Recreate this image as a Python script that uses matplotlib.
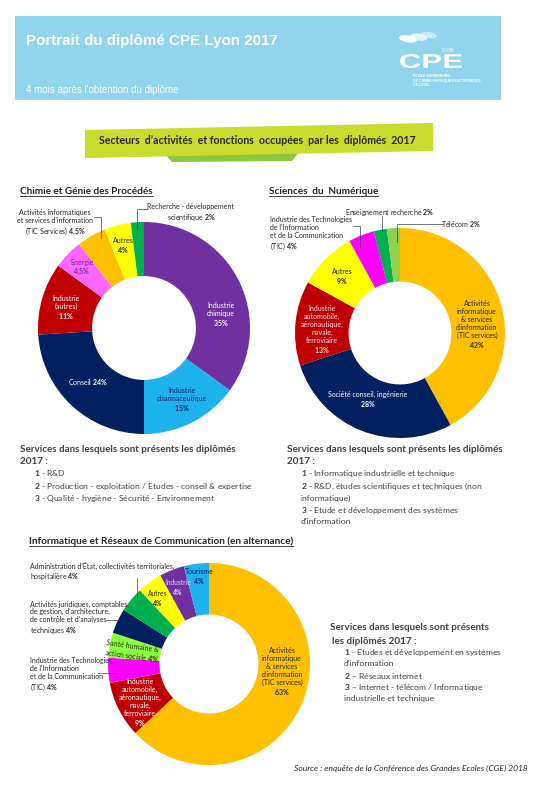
import numpy as np
import matplotlib
matplotlib.use('Agg')
from matplotlib import pyplot as plt
from matplotlib.patches import Rectangle, Polygon, Ellipse, PathPatch
from matplotlib.textpath import TextPath
from matplotlib.font_manager import FontProperties
import matplotlib.transforms as mtransforms

plt.rcParams['font.family'] = ['Lato', 'DejaVu Sans']
plt.rcParams['mathtext.fontset'] = 'custom'
plt.rcParams['mathtext.rm'] = 'Lato'
plt.rcParams['mathtext.bf'] = 'Lato:bold'
plt.rcParams['mathtext.it'] = 'Lato:italic'

W, H = 538, 785
DARK = '#262626'
GREY = '#404040'
NAVY = '#002060'

# --- donut data ---
chimie_lab = ['Industrie chimique', 'Industrie pharmaceutique', 'Conseil', 'Industrie (autres)',
              'Energie', 'Activités informatiques (TIC Services)', 'Autres', 'Recherche - développement scientifique']
chimie_val = [35, 15, 24, 11, 4.5, 4.5, 4, 2]
chimie_col = ['#7030A0', '#1DB2EE', '#002060', '#C00000', '#FF66FF', '#FFC000', '#FFFF00', '#00B050']

num_lab = ['Activités informatique & services (TIC)', 'Société conseil, ingénierie', 'Industrie automobile...',
           'Autres', 'Industrie TIC', 'Enseignement recherche', 'Télécom']
num_val = [42, 28, 13, 9, 4, 2, 2]
num_col = ['#FFC000', '#002060', '#C00000', '#FFFF00', '#FF00FF', '#00B050', '#92D050']

irc_lab = ['Activités informatique & services (TIC)', 'Industrie automobile...', 'Industrie TIC',
           'Santé humaine & action sociale', 'Activités juridiques...', 'Administration',
           'Autres', 'Industrie', 'Tourisme']
irc_val = [63, 9, 4, 4, 4, 4, 4, 4, 4]
irc_col = ['#FFC000', '#C00000', '#FF00FF', '#8CFF3C', '#002060', '#00B050', '#FFFF00', '#7030A0', '#1DB2EE']

fig = plt.figure(figsize=(W / 100, H / 100), dpi=100)


def donut(cx, cy, r, vals, cols):
    ax = fig.add_axes([(cx - r) / W, 1 - (cy + r) / H, 2 * r / W, 2 * r / H])
    ax.pie(vals, colors=cols, startangle=90, counterclock=False,
           wedgeprops=dict(width=0.51, linewidth=0))
    ax.set_xlim(-1, 1)
    ax.set_ylim(-1, 1)
    ax.axis('off')
    return ax


donut(144, 328, 106, chimie_val, chimie_col)
donut(400, 333, 105, num_val, num_col)
donut(209, 664, 101, irc_val, irc_col)

# overlay in pixel coords for texts and decorations
ov = fig.add_axes([0, 0, 1, 1])
ov.set_xlim(0, W)
ov.set_ylim(H, 0)
ov.axis('off')

# header band
ov.add_patch(Rectangle((15, 16), 486, 84, color='#91D4EC', lw=0))
ov.text(26, 41, 'Portrait du diplômé CPE Lyon 2017', family='Liberation Sans', fontweight='bold',
        fontsize=10.9, color='white', va='center')
ov.text(26, 90, "4 mois après l'obtention du diplôme", family='Liberation Sans', fontsize=7,
        color='white', va='center')
# logo
for ex, ey, ew, eh, a in [(408, 39, 18, 7, 1.0), (419, 37, 17, 7, 0.75), (429, 35, 16, 6, 0.5)]:
    ov.add_patch(Ellipse((ex, ey), ew, eh, angle=10, color='white', alpha=a, lw=0))
ov.text(448, 50, 'LYON', family='Liberation Sans', fontsize=3.3, color='white', va='center', ha='center')
tp = TextPath((0, 0), 'CPE', size=1, prop=FontProperties(family='Liberation Sans', weight='bold'))
ext = tp.get_extents()
tr = mtransforms.Affine2D().translate(-ext.x0, -ext.y0).scale(62 / ext.width, -14 / ext.height) \
    .translate(400, 68) + ov.transData
ov.add_patch(PathPatch(tp, transform=tr, color='white', lw=0))
for i, s in enumerate(['ÉCOLE SUPÉRIEURE', 'DE CHIMIE PHYSIQUE ÉLECTRONIQUE', 'DE LYON']):
    ov.text(413, 76 + i * 4.3, s, family='Liberation Sans', fontsize=2.6, color='white', va='center',
            fontweight='bold')

# banner
ov.add_patch(Polygon([(165, 154), (300, 151), (292, 161), (172, 162)], color='#8CC63E', lw=0))
ov.add_patch(Polygon([(85, 130), (433, 123), (433, 151), (85, 158)], color='#C9DB2C', lw=0))
ov.text(257, 141, 'Secteurs  d\u2019activités  et fonctions  occupées  par les  diplômés  2017',
        fontweight='bold', fontsize=7.6, color=DARK, ha='center', va='center')

renderer = fig.canvas.get_renderer()


def title(x, y, s, size=7.2):
    t = ov.text(x, y, s, fontweight='bold', fontsize=size, color=DARK, va='center')
    bb = t.get_window_extent(renderer)
    ov.plot([x, x + bb.width], [y + 5, y + 5], color=DARK, lw=0.6)


title(20, 191, 'Chimie et Génie des Procédés')
title(269, 191, 'Sciences  du  Numérique')
title(29, 541, 'Informatique et Réseaux de Communication (en alternance)')


def lab(s, x, y, c=DARK, ha='center', rot=0):
    ov.text(x, y, s, fontsize=5, color=c, ha=ha, va='center', multialignment=ha,
            linespacing=1.15, rotation=rot)


def leader(pts):
    pts = np.array(pts)
    ov.plot(pts[:, 0], pts[:, 1], color='#404040', lw=0.5)


# Chimie labels
lab('Industrie\nchimique\n$\\mathbf{35\\%}$', 221, 315, 'white')
lab('Industrie\npharmaceutique\n$\\mathbf{15\\%}$', 182, 400, NAVY)
lab('Conseil $\\mathbf{24\\%}$', 88, 382, 'white')
lab('Industrie\n(autres)\n$\\mathbf{11\\%}$', 66, 308, 'white')
lab('Energie\n$\\mathbf{4{,}5\\%}$', 82, 268, '#7030A0')
lab('Autres\n$\\mathbf{4\\%}$', 123, 246, DARK)
lab("Activités informatiques\net services d\u2019information\n(TIC Services) $\\mathbf{4{,}5\\%}$", 55, 223)
leader([(94, 217), (101, 217), (101, 238)])
lab('Recherche - développement\nscientifique $\\mathbf{2\\%}$', 191, 213)
leader([(148, 209), (137, 209), (137, 229)])

# Numerique labels
lab("Activités\ninformatique\n& services\nd\u2019information\n(TIC services)\n$\\mathbf{42\\%}$", 477, 325)
lab('Société conseil, ingénierie\n$\\mathbf{28\\%}$', 368, 400, 'white')
lab('Industrie\nautomobile,\naéronautique,\nnavale,\nferroviaire\n$\\mathbf{13\\%}$', 322, 330, '#FFE4E4')
lab('Autres\n$\\mathbf{9\\%}$', 342, 277)
lab("Industrie des Technologies\nde l\u2019Information\net de la Communication\n(TIC) $\\mathbf{4\\%}$",
    270, 234, ha='left')
leader([(353, 226), (360, 226), (360, 247)])
lab('Enseignement recherche $\\mathbf{2\\%}$', 390, 212)
leader([(382, 216), (382, 231)])
lab('Télécom $\\mathbf{2\\%}$', 461, 224)
leader([(443, 224), (397, 224), (397, 242)])

# IRC labels
lab("Activités\ninformatique\n& services\nd\u2019information\n(TIC services)\n$\\mathbf{63\\%}$", 282, 672)
lab('Industrie\nautomobile,\naéronautique,\nnavale,\nferroviaire\n$\\mathbf{9\\%}$', 140, 703, 'white')
lab('Santé humaine &\naction sociale $\\mathbf{4\\%}$', 132, 652, rot=-8)
ov.text(158, 599, 'Autres\n$\\mathbf{4\\%}$', fontsize=4.8, color=DARK, ha='center', va='center',
        linespacing=1.15)
ov.text(178, 588, 'Industrie\n$\\mathbf{4\\%}$', fontsize=4.8, color='#E6D2F5', ha='center', va='center',
        linespacing=1.15)
lab('Tourisme\n$\\mathbf{4\\%}$', 199, 577, NAVY)
lab("Administration d\u2019État, collectivités territoriales,\nhospitalière $\\mathbf{4\\%}$", 30, 572, ha='left')
leader([(137, 578), (137, 598)])
lab("Activités juridiques, comptables,\nde gestion, d\u2019architecture,\nde contrôle et d\u2019analyses\n"
    "techniques $\\mathbf{4\\%}$", 30, 618, ha='left')
leader([(106, 620), (119, 620)])
lab("Industrie des Technologies\nde l\u2019Information\net de la Communication\n(TIC) $\\mathbf{4\\%}$",
    30, 675, ha='left')
leader([(98, 673), (118, 673)])


# services text blocks
def head(x, y, s):
    ov.text(x, y, s, fontweight='bold', fontsize=7.1, color=GREY, va='center')


def item(x, y, s):
    ov.text(x, y, s, fontsize=6.1, color=GREY, va='center')


head(20, 449, 'Services dans lesquels sont présents les diplômés')
head(20, 461, '2017 :')
item(34, 473.5, '$\\mathbf{1}$ - R&D')
item(34, 486, '$\\mathbf{2}$ - Production - exploitation / Etudes - conseil & expertise')
item(34, 498, '$\\mathbf{3}$ - Qualité - hygiène - Sécurité - Environnement')

head(287, 449, 'Services dans lesquels sont présents les diplômés')
head(287, 461, '2017 :')
item(301, 473.5, '$\\mathbf{1}$ - Informatique industrielle et technique')
item(301, 486, '$\\mathbf{2}$ - R&D, études scientifiques et techniques (non')
item(301, 498, 'informatique)')
item(301, 510, '$\\mathbf{3}$ - Etude et développement des systèmes')
item(301, 522, 'd\u2019information')

head(330, 627, 'Services dans lesquels sont présents')
head(332, 641, 'les diplômés 2017 :')
item(344, 652.5, '$\\mathbf{1}$ - Etudes et développement en systèmes')
item(344, 664, 'd\u2019information')
item(344, 676, '$\\mathbf{2}$ – Réseaux internet')
item(344, 687.5, '$\\mathbf{3}$ – Internet - télécom / Informatique')
item(344, 699, 'industrielle et technique')

ov.text(528, 768, 'Source : enquête de la Conférence des Grandes Ecoles (CGE) 2018', style='italic',
        fontsize=6.1, color=DARK, ha='right', va='center')

fig.savefig('out.png', dpi=100)
